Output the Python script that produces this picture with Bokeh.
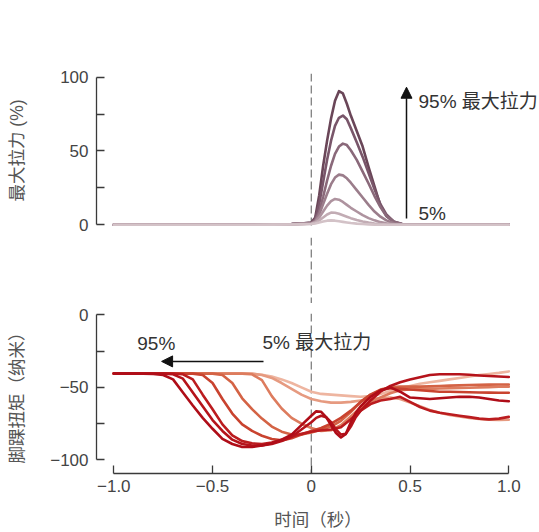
from bokeh.plotting import figure
from bokeh.layouts import column
from bokeh.models import Range1d, FixedTicker, Span, Arrow, NormalHead, Label
from bokeh.embed import file_html
from bokeh.resources import INLINE

FONT = "Liberation Sans, Noto Sans CJK SC"

# ---------------- data ----------------
# top panel: % of maximal pull, 7 force levels
top_x = [-1.0, -0.5, -0.2, -0.1, -0.05, 0.0, 0.02, 0.04, 0.06, 0.08, 0.10, 0.12, 0.14,
         0.16, 0.18, 0.20, 0.23, 0.26, 0.29, 0.32, 0.35, 0.38, 0.42, 0.46, 0.5, 1.0]
top_95 = [0, 0, 0.2, 0.5, 0.8, 1.5, 5, 20, 40, 57, 72, 84, 90.5, 89, 82, 74, 63.5, 53, 39, 26, 13, 6, 1.5, 0.3, 0, 0]
top_80 = [0, 0, 0.2, 0.5, 0.8, 1.3, 4, 14, 29, 44, 57, 67, 72.5, 74, 71.5, 65.5, 56, 46, 35, 24, 14, 7, 2, 0.5, 0, 0]
top_65 = [0, 0, 0.2, 0.5, 0.8, 1.2, 3, 9, 19, 30, 40, 48, 53, 55, 54, 50.5, 44, 36, 28, 19.5, 12, 6, 2, 0.5, 0, 0]
top_50 = [0, 0, 0.2, 0.4, 0.7, 1, 2.5, 7, 14, 21, 27.5, 32, 34, 33.5, 31.5, 28.5, 23.5, 18.5, 13.5, 9, 5.5, 3, 1, 0.3, 0, 0]
top_35 = [0, 0, 0.2, 0.4, 0.6, 0.9, 2, 5, 9, 13, 16, 17.5, 17, 15.5, 13.5, 11.5, 9, 6.5, 4.5, 3, 1.8, 1, 0.3, 0, 0, 0]
top_20 = [0, 0, 0.1, 0.3, 0.5, 0.7, 1.5, 3, 5, 7, 8.3, 8.2, 7.5, 6.5, 5.5, 4.5, 3.3, 2.3, 1.5, 0.9, 0.5, 0.2, 0, 0, 0, 0]
top_5 = [0, 0, 0.1, 0.2, 0.3, 0.5, 0.9, 1.5, 2.2, 2.8, 3, 2.8, 2.4, 2, 1.6, 1.2, 0.8, 0.5, 0.3, 0.1, 0, 0, 0, 0, 0, 0]
# drawn strongest first so the light traces lie on top
top_series = [top_95, top_80, top_65, top_50, top_35, top_20, top_5]
top_colors = ["#6a4658", "#79566a", "#8a697a", "#9b7d8b", "#ae939f", "#c2acb4", "#d3c2c7"]

# bottom panel: ankle torque, 8 force levels
bot_x = [-1.0, -0.95, -0.9, -0.85, -0.8, -0.75, -0.7, -0.65, -0.6, -0.55, -0.5, -0.45, -0.4, -0.35,
         -0.3, -0.25, -0.2, -0.15, -0.1, -0.05, 0.0, 0.05, 0.1, 0.15, 0.2, 0.25, 0.3, 0.35, 0.4,
         0.45, 0.5, 0.55, 0.6, 0.65, 0.7, 0.75, 0.8, 0.85, 0.9, 0.95, 1.0]
bump_x = [-1.0, -0.95, -0.9, -0.85, -0.8, -0.75, -0.7, -0.65, -0.6, -0.55, -0.5, -0.45, -0.4, -0.35,
          -0.3, -0.25, -0.2, -0.15, -0.1, -0.05, 0.0, 0.025, 0.05, 0.075, 0.1, 0.125, 0.15, 0.175,
          0.2, 0.225, 0.25, 0.3, 0.35, 0.4, 0.45, 0.5, 0.55, 0.6, 0.65, 0.7, 0.75, 0.8, 0.85, 0.9,
          0.95, 1.0]
bot_p1 = [-40.5, -40.5, -40.5, -40.5, -40.5, -40.5, -40.5, -40.5, -40.5, -40.5, -40.5, -40.5, -40.5,
          -40.6, -40.8, -41.3, -42.5, -44.5, -47, -50, -53, -54.5, -55, -55.5, -56, -56.5, -56,
          -54.5, -52.5, -50.5, -49, -47.5, -46.5, -45.5, -44.5, -43.5, -42.5, -41.5, -40.8, -40, -39]
bot_p2 = [-40.5, -40.5, -40.5, -40.5, -40.5, -40.5, -40.5, -40.5, -40.5, -40.5, -40.5, -40.5, -40.5,
          -40.5, -40.5, -41.5, -43.5, -47, -51, -55, -58, -59.5, -60.5, -60.5, -60, -59, -58,
          -57.5, -57, -58, -60.5, -63, -65.5, -67.5, -69, -70, -71, -71.8, -72.3, -72.5, -72.3]
bot_f = [-40.5, -40.5, -40.5, -40.5, -40.5, -40.5, -40.5, -40.5, -40.5, -40.5, -40.5, -40.5, -40.5,
         -40.5, -41, -45, -56, -64.5, -71, -75, -78, -80, -79.5, -76, -70, -64, -60,
         -57, -54, -52, -51.5, -51.2, -51, -50.8, -50.6, -50.4, -50.2, -50, -49.8, -49.6, -49.5]
bot_e = [-40.5, -40.5, -40.5, -40.5, -40.5, -40.5, -40.5, -40.5, -40.5, -40.5, -40.5, -41.5, -47,
         -57.5, -65, -71.5, -77, -80.5, -82.5, -82.5, -81, -79, -77, -73, -67, -60, -55,
         -51.5, -50, -49.5, -49.5, -49.5, -49.3, -49, -48.8, -48.6, -48.4, -48.2, -48.1, -48, -48]
bot_d = [-40.5, -40.5, -40.5, -40.5, -40.5, -40.5, -40.5, -40.5, -40.5, -41.5, -47, -58, -68,
         -75.5, -80, -83.3, -85.5, -86.5, -85, -82.5, -80, -78, -75, -71, -66, -60, -55,
         -52, -50.5, -51, -51.5, -52, -52.5, -53, -53, -53.2, -53.4, -53.5, -53.6, -53.7, -53.7]
bot_c = [-40.5, -40.5, -40.5, -40.5, -40.5, -40.5, -40.5, -41, -44.5, -55, -65, -75.5, -83,
         -87, -88.5, -89, -88, -86, -84, -82, -80.5, -79.5, -79, -77.5, -72, -66, -61.5,
         -59, -58, -56.5, -60, -63.5, -66, -67.5, -68.5, -69.5, -70.5, -71.5, -72, -71.5, -70.3]
bot_b = [-40.5, -40.5, -40.5, -40.5, -40.5, -40.5, -41, -44, -53.5, -63, -72.5, -80, -86,
         -89, -90, -90, -89, -87, -84, -79, -74, -71, -69.5, -70.5, -74, -79, -82.5, -82,
         -77, -70.5, -66, -59, -53, -49, -46.5, -44.5, -43, -41.5, -41, -41, -41, -41.3,
         -41.8, -42.2, -42.5, -42.8]
bot_a = [-40.5, -40.5, -40.5, -40.6, -40.8, -41.5, -44.5, -53.5, -62.5, -71, -78.5, -85.5, -89,
         -91, -91, -90, -88.5, -86, -82.5, -76, -69.5, -66.5, -66.8, -70.5, -76, -81.5, -84.5,
         -82, -74, -67.5, -63, -56.5, -52, -50, -53, -57, -57.5, -58, -57.5, -57, -56.5, -56.5,
         -57, -58, -59, -59.5]
bot_series = [(bot_x, bot_p1), (bot_x, bot_p2), (bot_x, bot_f), (bot_x, bot_e),
              (bot_x, bot_d), (bot_x, bot_c), (bump_x, bot_b), (bump_x, bot_a)]
bot_colors = ["#eeb5a0", "#e69a80", "#dd7c5e", "#d46345", "#c9432f", "#bb1c1f", "#b5131b", "#af0d18"]

top_ticks = [0, 25, 50, 75, 100]
bot_ticks = [-100, -75, -50, -25, 0]
x_ticks = [-1.0, -0.5, 0.0, 0.5, 1.0]
x_tick_labels = {-1.0: "\u22121.0", -0.5: "\u22120.5", 0.0: "0", 0.5: "0.5", 1.0: "1.0"}
top_tick_labels = {0: "0", 25: "", 50: "50", 75: "", 100: "100"}
bot_tick_labels = {-100: "\u2212100", -75: "", -50: "\u221250", -25: "", 0: "0"}

# ---------------- figures ----------------
x_range = Range1d(-1.0876, 1.1554)


def style_axis(ax, label, label_standoff):
    ax.axis_line_color = "#3a3a3a"
    ax.axis_line_width = 1.3
    ax.major_tick_line_color = "#3a3a3a"
    ax.major_tick_line_width = 1.3
    ax.major_tick_in = 8
    ax.major_tick_out = 0
    ax.minor_tick_in = 0
    ax.minor_tick_out = 0
    ax.major_label_text_font = FONT
    ax.major_label_text_font_size = "17px"
    ax.major_label_text_color = "#444444"
    ax.axis_label = label
    ax.axis_label_text_font = FONT
    ax.axis_label_text_font_size = "17.5px"
    ax.axis_label_text_font_style = "normal"
    ax.axis_label_text_color = "#555555"
    ax.axis_label_standoff = label_standoff


def base_fig(height, yr, top_b, bottom_b, xloc, yloc="left"):
    f = figure(width=539, height=height, x_range=x_range, y_range=yr,
               x_axis_location=xloc, y_axis_location=yloc,
               output_backend="svg", toolbar_location=None,
               min_border_left=96, min_border_right=0,
               min_border_top=top_b, min_border_bottom=bottom_b)
    f.grid.visible = False
    f.outline_line_color = None
    f.background_fill_color = "white"
    f.border_fill_color = "white"
    f.add_layout(Span(location=0, dimension="height", line_color="#808080",
                      line_width=1.3, line_dash="8 4", level="underlay"))
    return f


def text(fig, x, y, s, size="19px", color="#333333"):
    fig.add_layout(Label(x=x, y=y, text=s, text_align="left", text_baseline="middle",
                         text_font=FONT, text_font_size=size, text_color=color))


# top panel (frame 73..227, canvas to 237 so the "0" tick label fits)
top = base_fig(237, Range1d(-1.83, 102.5), 73, 10, None)
yax = top.yaxis[0]
style_axis(yax, "最大拉力 (%)", 30)
yax.ticker = FixedTicker(ticks=top_ticks)
yax.major_label_overrides = top_tick_labels
yax.bounds = (0, 100)
yax.major_label_standoff = 8

for ys, c in zip(top_series, top_colors):
    top.line(top_x, ys, line_color=c, line_width=2.6, line_join="round", line_cap="round")

top.add_layout(Arrow(end=NormalHead(size=11, fill_color="#111111", line_color="#111111"),
                     x_start=0.482, y_start=4.3, x_end=0.482, y_end=93.2,
                     line_color="#111111", line_width=1.5))
text(top, 0.543, 83.7, "95% 最大拉力")
text(top, 0.543, 7.7, "5%")

# gap between the panels: only the dashed time-zero marker runs through it
mid = base_fig(66, Range1d(0, 1), 0, 0, None, None)

# bottom panel (canvas from 303, frame 313..475)
bot = base_fig(229, Range1d(-109.3, 0.88), 10, 57, "below")
xax = bot.xaxis[0]
style_axis(xax, "时间（秒）", 15)
xax.ticker = FixedTicker(ticks=x_ticks)
xax.major_label_overrides = x_tick_labels
xax.bounds = (-1, 1)
xax.major_label_standoff = 6
yax2 = bot.yaxis[0]
style_axis(yax2, "脚踝扭矩（纳米）", 20)
yax2.ticker = FixedTicker(ticks=bot_ticks)
yax2.major_label_overrides = bot_tick_labels
yax2.bounds = (-100, 0)
yax2.major_label_standoff = 8

for (xs, ys), c in zip(bot_series, bot_colors):
    bot.line(xs, ys, line_color=c, line_width=2.6, line_join="round", line_cap="round")

bot.add_layout(Arrow(end=NormalHead(size=11, fill_color="#111111", line_color="#111111"),
                     x_start=-0.242, y_start=-32.1, x_end=-0.758, y_end=-32.1,
                     line_color="#111111", line_width=1.5))
text(bot, -0.881, -19.5, "95%")
text(bot, -0.247, -19.3, "5% 最大拉力")

layout = column(top, mid, bot)
open("out.html", "w").write(file_html(layout, INLINE))
